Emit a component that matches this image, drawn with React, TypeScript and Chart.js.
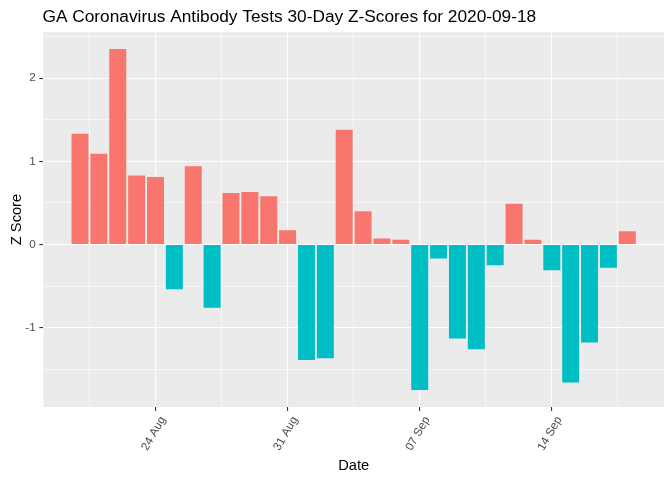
import React, { useEffect, useRef } from "react";
import { Chart, registerables } from "chart.js";

Chart.register(...registerables);

const dates = [
  "2020-08-20", "2020-08-21", "2020-08-22", "2020-08-23", "2020-08-24",
  "2020-08-25", "2020-08-26", "2020-08-27", "2020-08-28", "2020-08-29",
  "2020-08-30", "2020-08-31", "2020-09-01", "2020-09-02", "2020-09-03",
  "2020-09-04", "2020-09-05", "2020-09-06", "2020-09-07", "2020-09-08",
  "2020-09-09", "2020-09-10", "2020-09-11", "2020-09-12", "2020-09-13",
  "2020-09-14", "2020-09-15", "2020-09-16", "2020-09-17", "2020-09-18",
];

const zScores = [
  1.33, 1.09, 2.35, 0.83, 0.81, -0.54, 0.94, -0.76, 0.62, 0.63,
  0.58, 0.17, -1.39, -1.37, 1.38, 0.4, 0.07, 0.055, -1.75, -0.17,
  -1.13, -1.26, -0.25, 0.49, 0.055, -0.31, -1.66, -1.18, -0.28, 0.16,
];

const majorTickDates = ["2020-08-24", "2020-08-31", "2020-09-07", "2020-09-14"];
const majorTickLabels = ["24 Aug", "31 Aug", "07 Sep", "14 Sep"];

const yMajorTicks = [-1, 0, 1, 2];
const yMinorTicks = [-1.5, -0.5, 0.5, 1.5, 2.5];

const titleText = "GA Coronavirus Antibody Tests 30-Day Z-Scores for 2020-09-18";
const xTitle = "Date";
const yTitle = "Z Score";

const POS_COLOR = "#F8766D";
const NEG_COLOR = "#00BFC4";
const FONT = '"Liberation Sans", Arial, sans-serif';

const toDay = (s: string) =>
  Date.UTC(+s.slice(0, 4), +s.slice(5, 7) - 1, +s.slice(8, 10)) / 86400000;

export default function App() {
  const ref = useRef<HTMLCanvasElement | null>(null);

  useEffect(() => {
    document.body.style.margin = "0";
    const canvas = ref.current;
    if (!canvas) return;

    const xs = dates.map(toDay);
    const points = xs.map((x, i) => ({ x, y: zScores[i] }));
    const majorX = majorTickDates.map(toDay);
    const minorX: number[] = [];
    minorX.push(majorX[0] - 3.5);
    for (let i = 0; i < majorX.length - 1; i++) minorX.push((majorX[i] + majorX[i + 1]) / 2);
    minorX.push(majorX[majorX.length - 1] + 3.5);
    const allX = [...majorX, ...minorX].sort((a, b) => a - b);

    const xLo = Math.min(...xs) - 0.45;
    const xHi = Math.max(...xs) + 0.45;
    const xPad = (xHi - xLo) * 0.05;
    const yLo = Math.min(0, ...zScores);
    const yHi = Math.max(0, ...zScores);
    const yPad = (yHi - yLo) * 0.05;
    const allY = [...yMajorTicks, ...yMinorTicks].sort((a, b) => a - b);

    const isMajorX = (v: any) => typeof v === "number" && majorX.some((m) => Math.abs(m - v) < 1e-6);
    const isMajorY = (v: any) => typeof v === "number" && yMajorTicks.some((m) => Math.abs(m - v) < 1e-6);
    const tv = (c: any) => (c && c.tick ? c.tick.value : undefined);

    const bgPlugin = {
      id: "panelBg",
      beforeDraw(chart: any) {
        const { ctx, chartArea } = chart;
        ctx.save();
        ctx.fillStyle = "#EBEBEB";
        ctx.fillRect(chartArea.left, chartArea.top, chartArea.right - chartArea.left, chartArea.bottom - chartArea.top);
        ctx.restore();
      },
      afterDraw(chart: any) {
        const { ctx, chartArea } = chart;
        ctx.save();
        ctx.fillStyle = "#000000";
        ctx.textBaseline = "alphabetic";
        ctx.textAlign = "left";
        ctx.font = `17.3px ${FONT}`;
        ctx.fillText(titleText, chartArea.left - 0.8, 22);
        ctx.font = `14.67px ${FONT}`;
        ctx.textAlign = "center";
        ctx.fillText(xTitle, (chartArea.left + chartArea.right) / 2, 470);
        ctx.translate(20.5, (chartArea.top + chartArea.bottom) / 2);
        ctx.rotate(-Math.PI / 2);
        ctx.fillText(yTitle, 0, 0);
        ctx.restore();
      },
    };

    const chart = new Chart(canvas, {
      type: "bar",
      data: {
        datasets: [
          {
            data: points as any,
            backgroundColor: (c: any) => ((c.raw && c.raw.y < 0) ? NEG_COLOR : POS_COLOR),
            barPercentage: 0.9,
            categoryPercentage: 1.0,
            borderWidth: 0,
          },
        ],
      },
      options: {
        animation: false,
        responsive: false,
        devicePixelRatio: 1,
        layout: { padding: { top: 32, right: 8, left: 0, bottom: 0 } },
        plugins: {
          legend: { display: false },
          tooltip: { enabled: false },
          title: { display: false },
        },
        scales: {
          x: {
            type: "linear",
            offset: false,
            min: xLo - xPad,
            max: xHi + xPad,
            afterBuildTicks: (scale: any) => {
              scale.ticks = allX.map((v) => ({ value: v }));
            },
            afterFit: (scale: any) => {
              scale.height = 73;
            },
            border: { display: false },
            grid: {
              offset: false,
              color: "#FFFFFF",
              lineWidth: (c: any) => (isMajorX(tv(c)) ? 1.1 : 0.55),
              tickColor: (c: any) => (isMajorX(tv(c)) ? "#333333" : "rgba(0,0,0,0)"),
              tickLength: 4,
              tickWidth: 1.1,
              drawTicks: true,
            },
            ticks: {
              autoSkip: false,
              minRotation: 60,
              maxRotation: 60,
              padding: 3,
              labelOffset: 7.5,
              color: "#4D4D4D",
              font: { family: FONT, size: 11.73 },
              callback: (v: any) => {
                const idx = majorX.findIndex((m) => Math.abs(m - Number(v)) < 1e-6);
                return idx >= 0 ? majorTickLabels[idx] : "";
              },
            },
          },
          y: {
            type: "linear",
            min: yLo - yPad,
            max: yHi + yPad,
            afterBuildTicks: (scale: any) => {
              scale.ticks = allY.map((v) => ({ value: v }));
            },
            afterFit: (scale: any) => {
              scale.width = 43.3;
            },
            border: { display: false },
            grid: {
              color: "#FFFFFF",
              lineWidth: (c: any) => (isMajorY(tv(c)) ? 1.1 : 0.55),
              tickColor: (c: any) => (isMajorY(tv(c)) ? "#333333" : "rgba(0,0,0,0)"),
              tickLength: 4,
              tickWidth: 1.1,
              drawTicks: true,
            },
            ticks: {
              autoSkip: false,
              padding: 3.6,
              color: "#4D4D4D",
              font: { family: FONT, size: 11.73 },
              callback: (v: any) => (isMajorY(Number(v)) ? String(v) : ""),
            },
          },
        },
      },
      plugins: [bgPlugin],
    });

    return () => chart.destroy();
  }, []);

  return (
    <div style={{ width: 672, height: 480 }}>
      <canvas ref={ref} width={672} height={480} style={{ display: "block" }} />
    </div>
  );
}
